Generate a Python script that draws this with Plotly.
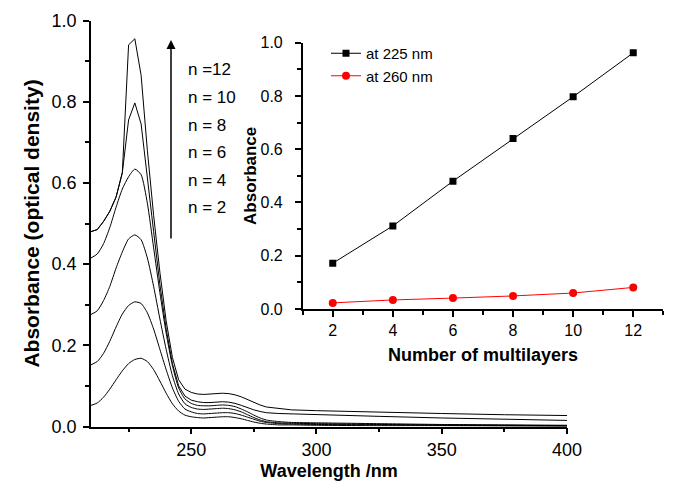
import plotly.graph_objects as go

# ---------------- data ----------------
wavelength = [210, 212.5, 215, 217.5, 220, 222.5, 225, 227.5, 230, 232.5, 235, 237.5,
              240, 242.5, 245, 247.5, 250, 252.5, 255, 257.5, 260, 262.5, 265, 267.5,
              270, 272.5, 275, 277.5, 280, 285, 290, 300, 325, 350, 375, 400]

abs_n12 = [0.480, 0.485, 0.505, 0.530, 0.565, 0.625, 0.940, 0.955, 0.865, 0.680, 0.520, 0.380,
           0.260, 0.170, 0.115, 0.092, 0.084, 0.080, 0.079, 0.080, 0.081, 0.082, 0.081, 0.078,
           0.073, 0.066, 0.059, 0.053, 0.048, 0.044, 0.041, 0.039, 0.035, 0.032, 0.029, 0.027]
abs_n10 = [0.480, 0.485, 0.505, 0.530, 0.565, 0.625, 0.755, 0.797, 0.745, 0.620, 0.480, 0.350,
           0.240, 0.155, 0.100, 0.075, 0.065, 0.061, 0.059, 0.059, 0.060, 0.061, 0.060, 0.057,
           0.052, 0.046, 0.041, 0.037, 0.034, 0.032, 0.031, 0.029, 0.025, 0.021, 0.018, 0.015]
abs_n8 = [0.415, 0.425, 0.450, 0.490, 0.540, 0.585, 0.615, 0.634, 0.620, 0.550, 0.440, 0.330,
          0.230, 0.150, 0.095, 0.068, 0.057, 0.052, 0.051, 0.051, 0.052, 0.053, 0.052, 0.049,
          0.043, 0.036, 0.028, 0.021, 0.016, 0.012, 0.010, 0.009, 0.007, 0.005, 0.004, 0.003]
abs_n6 = [0.276, 0.285, 0.310, 0.345, 0.390, 0.430, 0.462, 0.472, 0.460, 0.415, 0.345, 0.265,
          0.190, 0.125, 0.080, 0.056, 0.047, 0.043, 0.042, 0.043, 0.044, 0.045, 0.044, 0.041,
          0.036, 0.029, 0.022, 0.016, 0.012, 0.009, 0.008, 0.007, 0.005, 0.004, 0.003, 0.002]
abs_n4 = [0.152, 0.160, 0.180, 0.210, 0.245, 0.277, 0.298, 0.307, 0.303, 0.280, 0.240, 0.190,
          0.140, 0.095, 0.062, 0.043, 0.036, 0.032, 0.031, 0.032, 0.033, 0.034, 0.034, 0.032,
          0.028, 0.023, 0.018, 0.013, 0.010, 0.007, 0.006, 0.005, 0.004, 0.003, 0.002, 0.001]
abs_n2 = [0.052, 0.058, 0.072, 0.092, 0.115, 0.137, 0.155, 0.165, 0.168, 0.160, 0.140, 0.112,
          0.082, 0.056, 0.038, 0.028, 0.024, 0.022, 0.021, 0.022, 0.023, 0.024, 0.024, 0.022,
          0.019, 0.015, 0.011, 0.008, 0.006, 0.004, 0.004, 0.003, 0.002, 0.002, 0.001, 0.000]

n_labels = ["n =12", "n = 10", "n = 8", "n = 6", "n = 4", "n = 2"]

layers = [2, 4, 6, 8, 10, 12]
abs_225 = [0.172, 0.312, 0.480, 0.640, 0.797, 0.962]
abs_260 = [0.023, 0.034, 0.041, 0.049, 0.060, 0.081]

# ---------------- figure ----------------
OFF = 8                      # default page margin of the html body
W, H = 677 - OFF, 490 - OFF
FONT = "Liberation Sans, Arial, sans-serif"

def px_x(p):
    return (p - OFF) / W

def px_y(p):
    return 1 - (p - OFF) / H

fig = go.Figure()

for ys, shape in [(abs_n2, "spline"), (abs_n4, "spline"), (abs_n6, "spline"),
                  (abs_n8, "spline"), (abs_n10, "linear"), (abs_n12, "linear")]:
    fig.add_trace(go.Scatter(x=wavelength, y=ys, mode="lines",
                             line=dict(color="black", width=1, shape=shape, smoothing=0.6),
                             showlegend=False, xaxis="x", yaxis="y", hoverinfo="skip"))

fig.add_trace(go.Scatter(x=layers, y=abs_225, mode="lines+markers", name="at 225 nm",
                         line=dict(color="black", width=1),
                         marker=dict(symbol="square", size=7, color="black"),
                         xaxis="x2", yaxis="y2"))
fig.add_trace(go.Scatter(x=layers, y=abs_260, mode="lines+markers", name="at 260 nm",
                         line=dict(color="red", width=1),
                         marker=dict(symbol="circle", size=8, color="red"),
                         xaxis="x2", yaxis="y2"))

axis_common = dict(showline=True, linecolor="black", linewidth=1.5, ticks="outside",
                   tickwidth=1.5, ticklen=6, tickcolor="black", showgrid=False,
                   zeroline=False, automargin=False, mirror=False)
minor_common = dict(ticklen=4, tickwidth=1.5, tickcolor="black", ticks="outside", showgrid=False)

fig.update_layout(
    width=W, height=H,
    margin=dict(l=0, r=0, t=0, b=0),
    paper_bgcolor="white", plot_bgcolor="rgba(0,0,0,0)",
    font=dict(family=FONT, size=17, color="black"),
    xaxis=dict(**axis_common, domain=[px_x(91), px_x(567)], range=[210, 400],
               dtick=50, tick0=0, anchor="y",
               minor=dict(dtick=25, **minor_common),
               tickfont=dict(size=18),
               title=dict(text="<b>Wavelength /nm</b>", font=dict(size=18), standoff=6)),
    yaxis=dict(**axis_common, domain=[px_y(426.5), px_y(20.5)], range=[0, 1.0],
               dtick=0.2, tickformat=".1f", anchor="x", ticklabelstandoff=3,
               minor=dict(dtick=0.1, **minor_common),
               tickfont=dict(size=18),
               title=dict(text="<b>Absorbance (optical density)</b>", font=dict(size=21), standoff=6)),
    xaxis2=dict(**axis_common, domain=[px_x(302.7), px_x(663.3)], range=[1, 13],
                dtick=2, tick0=0, anchor="y2",
                minor=dict(dtick=1, **minor_common),
                tickfont=dict(size=16),
                title=dict(text="<b>Number of multilayers</b>", font=dict(size=18), standoff=10)),
    yaxis2=dict(**axis_common, domain=[px_y(309), px_y(42.7)], range=[0, 1.0],
                dtick=0.2, tickformat=".1f", anchor="x2", ticklabelstandoff=9,
                minor=dict(dtick=0.1, **minor_common),
                tickfont=dict(size=16),
                title=dict(text="<b>Absorbance</b>", font=dict(size=17), standoff=0)),
    legend=dict(x=px_x(326), y=px_y(37), xanchor="left", yanchor="top",
                bgcolor="rgba(0,0,0,0)", font=dict(size=15), tracegroupgap=0,
                itemwidth=30),
)

# arrow
fig.add_annotation(x=px_x(171), y=px_y(40), xref="paper", yref="paper",
                   ax=0, ay=200, axref="pixel", ayref="pixel", text="",
                   showarrow=True, arrowhead=2, arrowsize=1.2, arrowwidth=1.5,
                   arrowcolor="black")

label_y = [70, 97.5, 125, 152.5, 180, 207.5]
for txt, yy in zip(n_labels, label_y):
    fig.add_annotation(x=px_x(186), y=px_y(yy), xref="paper", yref="paper",
                       text=txt, showarrow=False, xanchor="left", yanchor="middle",
                       font=dict(size=17))

fig.write_html("out.html")
